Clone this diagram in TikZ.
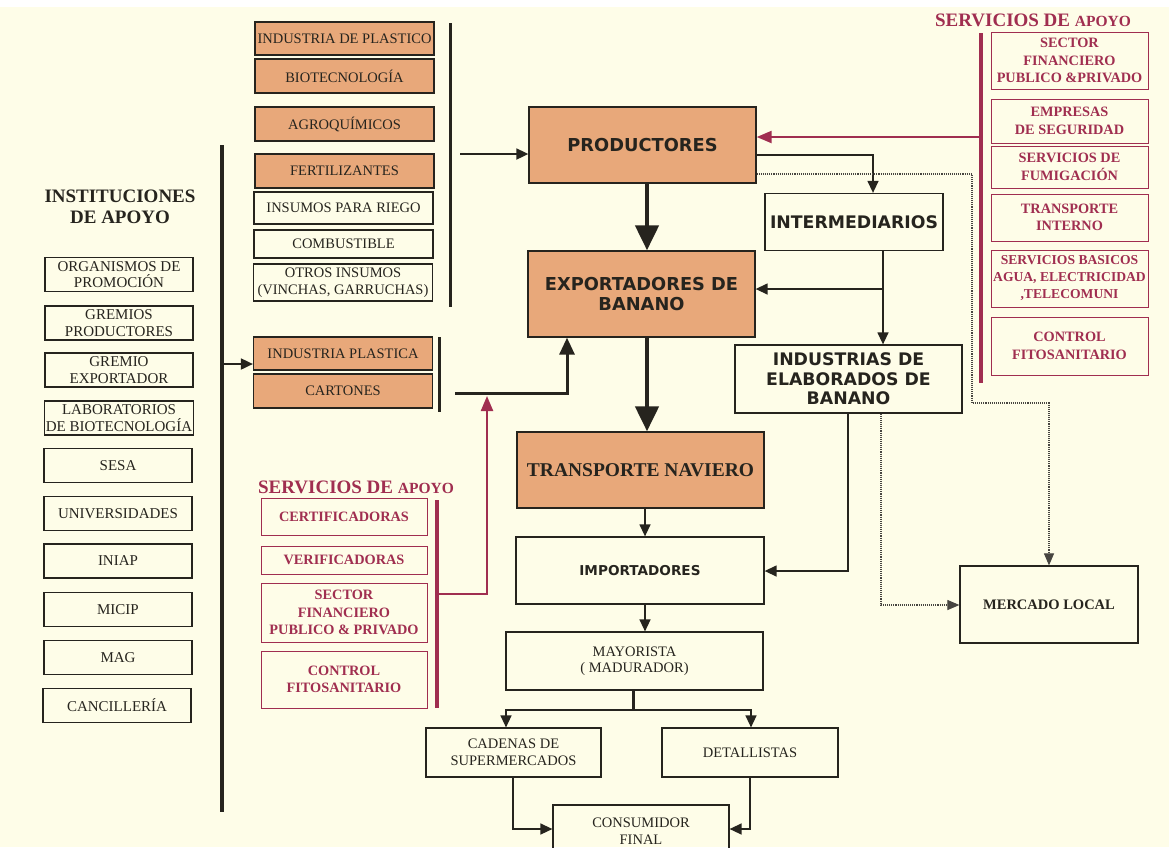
\documentclass[tikz,border=0pt]{standalone}
\usepackage{fontspec}
\setmainfont{Liberation Serif}
\newfontfamily\verdana{DejaVu Sans}
\usetikzlibrary{arrows.meta, positioning}
\definecolor{fondo}{RGB}{254,253,232}
\definecolor{naranja}{RGB}{232,168,122}
\definecolor{granate}{RGB}{160,46,80}
\definecolor{tinta}{RGB}{38,36,30}

\begin{document}
\begin{tikzpicture}[x=1pt, y=-1pt,
    caja/.style={draw=tinta, line width=1.2pt, text=tinta, align=center, inner sep=1pt, font=\fontsize{14.5}{16.5}\selectfont},
    insumo/.style={caja, minimum width=179pt, minimum height=#1},
    inst/.style={caja, minimum width=148pt, minimum height=34pt, font=\fontsize{15}{16.5}\selectfont},
    apoyo/.style={draw=granate, line width=1pt, text=granate, align=center, inner sep=1pt, minimum width=#1, font=\bfseries\fontsize{14.3}{17.5}\selectfont},
    eslabon/.style={caja, fill=naranja, line width=1.3pt, font=\verdana\bfseries\fontsize{17.8}{20.5}\selectfont},
    agente/.style={caja, line width=1.3pt, font=\verdana\bfseries\fontsize{17.3}{20.5}\selectfont},
    titulo/.style={text=#1, align=center, inner sep=0pt, font=\bfseries\fontsize{19}{20}\selectfont},
    flecha/.style={draw=tinta, line width=1.4pt, -{Triangle[length=12pt, width=11pt]}},
    flechamedia/.style={draw=tinta, line width=3pt, -{Triangle[length=17pt, width=15pt]}},
    flechagruesa/.style={draw=tinta, line width=4.5pt, -{Triangle[length=25pt, width=23pt]}},
    flecharoja/.style={draw=granate, line width=2.2pt, -{Triangle[length=15pt, width=12pt]}},
    punteada/.style={draw=tinta!85, line width=1.1pt, densely dotted, -{Triangle[length=12pt, width=10pt]}},
    barra/.style={draw=tinta, line width=3pt},
    barraroja/.style={draw=granate, line width=3.2pt}
]
    \useasboundingbox (0,0) rectangle (1169,847);
    \clip (0,0) rectangle (1169,847);
    \fill[white] (0,0) rectangle (1169,847);
    \fill[fondo] (0,7) rectangle (1169,847);

    % Insumos
    \node[insumo=33pt, fill=naranja] (plastico) at (344.5,38.5) {INDUSTRIA DE PLASTICO};
    \node[insumo=34pt, fill=naranja] (biotec) at (344.5,76) {BIOTECNOLOGÍA};
    \node[insumo=34pt, fill=naranja] (agroq) at (344.5,124) {AGROQUÍMICOS};
    \node[insumo=34pt, fill=naranja] (fertil) at (344.5,171) {FERTILIZANTES};
    \node[insumo=32pt] (riego) at (343.5,208) {INSUMOS PARA RIEGO};
    \node[insumo=28pt] (combust) at (343.5,244) {COMBUSTIBLE};
    \node[insumo=37pt] (otros) at (343,282.5) {OTROS INSUMOS\\(VINCHAS, GARRUCHAS)};
    \draw[barra] (450,23) -- (450,307);

    \node[insumo=33pt, fill=naranja] (indplas) at (343,353.5) {INDUSTRIA PLASTICA};
    \node[insumo=34pt, fill=naranja] (cartones) at (343,391) {CARTONES};
    \draw[barra] (439,337) -- (439,412);

    % Instituciones de apoyo
    \node[titulo=tinta, font=\bfseries\fontsize{19}{21}\selectfont] (instit) at (120,207) {INSTITUCIONES\\DE APOYO};
    \node[inst] (organ) at (119,274.5) {ORGANISMOS DE\\PROMOCIÓN};
    \node[inst] (grprod) at (119,323) {GREMIOS\\PRODUCTORES};
    \node[inst] (grexp) at (119,370) {GREMIO\\EXPORTADOR};
    \node[inst] (labor) at (119,418) {LABORATORIOS\\DE BIOTECNOLOGÍA};
    \node[inst] (sesa) at (118,465.5) {SESA};
    \node[inst] (univ) at (118,513.5) {UNIVERSIDADES};
    \node[inst] (iniap) at (118,561) {INIAP};
    \node[inst] (micip) at (118,609.5) {MICIP};
    \node[inst] (mag) at (118,657.5) {MAG};
    \node[inst] (cancill) at (117,705.5) {CANCILLERÍA};
    \draw[barra, line width=3.5pt] (222,145) -- (222,812);

    % Servicios de apoyo (abajo)
    \node[titulo=granate] (servab) at (356,487) {SERVICIOS DE {\fontsize{15.5}{16}\selectfont APOYO}};
    \node[apoyo=166pt, minimum height=37pt] (certif) at (344,516.5) {CERTIFICADORAS};
    \node[apoyo=166pt, minimum height=28pt] (verif) at (344,560) {VERIFICADORAS};
    \node[apoyo=166pt, minimum height=59pt] (financab) at (344,612.5) {SECTOR\\FINANCIERO\\PUBLICO \& PRIVADO};
    \node[apoyo=166pt, minimum height=57pt] (fitoab) at (344,679.5) {CONTROL\\FITOSANITARIO};
    \draw[barraroja] (437,500) -- (437,708);

    % Servicios de apoyo (arriba)
    \node[titulo=granate] (servar) at (1033,20) {SERVICIOS DE {\fontsize{15.5}{16}\selectfont APOYO}};
    \node[apoyo=157pt, minimum height=57pt] (financar) at (1069.5,60.5) {SECTOR\\FINANCIERO\\PUBLICO \&PRIVADO};
    \node[apoyo=157pt, minimum height=44pt] (segur) at (1069.5,121) {EMPRESAS\\DE SEGURIDAD};
    \node[apoyo=157pt, minimum height=42pt] (fumig) at (1069.5,167) {SERVICIOS DE\\FUMIGACIÓN};
    \node[apoyo=157pt, minimum height=47pt] (transint) at (1069.5,217.5) {TRANSPORTE\\INTERNO};
    \node[apoyo=157pt, minimum height=57pt, font=\bfseries\fontsize{13.6}{17}\selectfont] (basicos) at (1069.5,278.5) {SERVICIOS BASICOS\\AGUA, ELECTRICIDAD\\,TELECOMUNI};
    \node[apoyo=157pt, minimum height=58pt] (fitoar) at (1069.5,346) {CONTROL\\FITOSANITARIO};
    \draw[barraroja] (981,33) -- (981,383);

    % Cadena principal
    \node[eslabon, minimum width=227pt, minimum height=76pt] (prod) at (642.5,145) {PRODUCTORES};
    \node[eslabon, minimum width=227pt, minimum height=86pt] (exp) at (641.5,294) {EXPORTADORES DE\\BANANO};
    \node[agente, minimum width=178pt, minimum height=57pt] (inter) at (854,222) {INTERMEDIARIOS};
    \node[agente, minimum width=227pt, minimum height=68pt, font=\verdana\bfseries\fontsize{17.3}{19.5}\selectfont] (indel) at (848.5,379) {INDUSTRIAS DE\\ELABORADOS DE\\BANANO};
    \node[caja, fill=naranja, line width=1.3pt, minimum width=247pt, minimum height=76pt, font=\bfseries\fontsize{19.5}{22}\selectfont] (trans) at (640.5,470) {TRANSPORTE NAVIERO};
    \node[agente, minimum width=248pt, minimum height=67pt, font=\verdana\bfseries\fontsize{13.6}{16}\selectfont] (imp) at (640,570.5) {IMPORTADORES};
    \node[caja, minimum width=257pt, minimum height=58pt] (mayor) at (634.5,661) {MAYORISTA\\( MADURADOR)};
    \node[caja, minimum width=175pt, minimum height=49pt] (cadenas) at (513.5,752.5) {CADENAS DE\\SUPERMERCADOS};
    \node[caja, minimum width=176pt, minimum height=49pt] (detall) at (750,752.5) {DETALLISTAS};
    \node[caja, minimum width=176pt, minimum height=52pt] (consum) at (641,831) {CONSUMIDOR\\FINAL};
    \node[caja, minimum width=178pt, minimum height=77pt, font=\bfseries\fontsize{14.5}{16.5}\selectfont] (merc) at (1049,604.5) {MERCADO LOCAL};

    % Flechas
    \coordinate (ins) at (460,154);
    \draw[flecha, line width=1.8pt] (ins) -- (ins -| prod.west);
    \coordinate (inst) at (222,364);
    \draw[flecha, line width=1.8pt] (inst) -- (inst -| indplas.west);
    \coordinate (cart) at (455,393);
    \coordinate (cart2) at (567,393);
    \draw[flechamedia] (cart) -- (cart2) -- (cart2 |- exp.south);
    \coordinate (rojo1) at (437,594);
    \coordinate (rojo2) at (487,396);
    \draw[flecharoja] (rojo1) -| (rojo2);
    \coordinate (rojo3) at (981,137);
    \draw[flecharoja] (rojo3) -- (rojo3 -| prod.east);

    \coordinate (eje) at (647,0);
    \draw[flechagruesa] (prod.south -| eje) -- (exp.north -| eje);
    \draw[flechagruesa] (exp.south -| eje) -- (trans.north -| eje);
    \coordinate (eje2) at (645,0);
    \draw[flecha] (trans.south -| eje2) -- (imp.north -| eje2);
    \draw[flecha] (imp.south -| eje2) -- (mayor.north -| eje2);

    \coordinate (tallo) at (633,710);
    \coordinate (ramiz) at (506,710);
    \coordinate (ramder) at (751,710);
    \draw[barra] (mayor.south -| tallo) -- (tallo);
    \draw[flecha] (tallo) -- (ramiz) -- (ramiz |- cadenas.north);
    \draw[flecha] (tallo) -- (ramder) -- (ramder |- detall.north);
    \coordinate (c1) at (513,829);
    \draw[flecha] (cadenas.south -| c1) -- (c1) -- (c1 -| consum.west);
    \coordinate (d1) at (750,829);
    \draw[flecha] (detall.south -| d1) -- (d1) -- (d1 -| consum.east);

    \coordinate (p1) at (873,155);
    \draw[flecha] (p1 -| prod.east) -- (p1) -- (p1 |- inter.north);
    \coordinate (i1) at (883,289);
    \draw[flecha] (inter.south -| i1) -- (i1 |- indel.north);
    \draw[flecha] (i1) -- (i1 -| exp.east);
    \coordinate (i2) at (848,571);
    \draw[flecha] (indel.south -| i2) -- (i2) -- (i2 -| imp.east);
    \coordinate (i3) at (881,605);
    \draw[punteada] (indel.south -| i3) -- (i3) -- (i3 -| merc.west);
    \coordinate (q1) at (972,174);
    \coordinate (q2) at (972,403);
    \coordinate (q3) at (1049,403);
    \draw[punteada] (q1 -| prod.east) -- (q1) -- (q2) -- (q3) -- (q3 |- merc.north);
\end{tikzpicture}
\end{document}
